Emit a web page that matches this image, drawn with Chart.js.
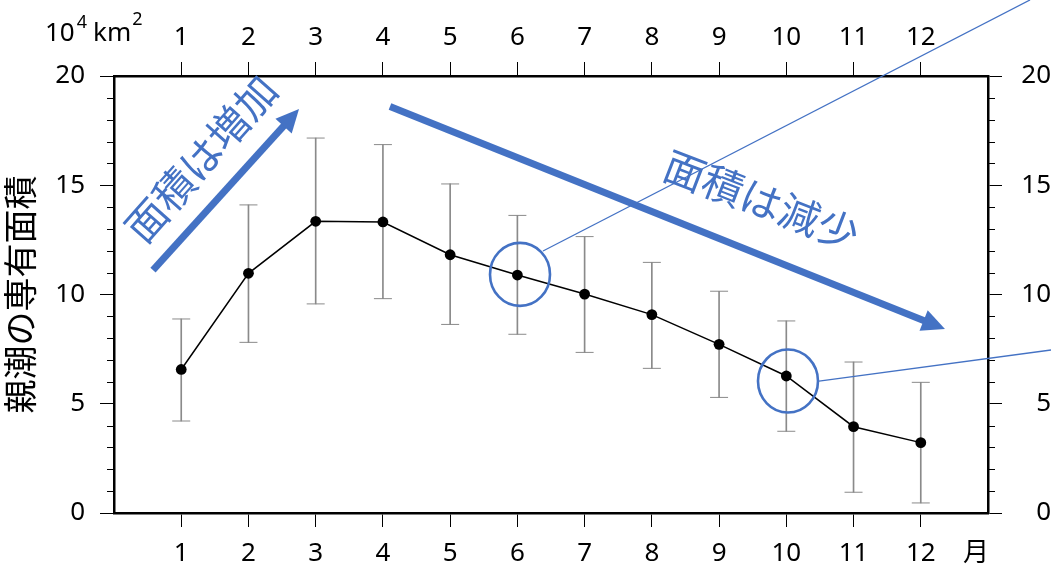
<!DOCTYPE html>
<html>
<head>
<meta charset="utf-8">
<script src="https://cdn.jsdelivr.net/npm/chart.js@4.4.1/dist/chart.umd.min.js"></script>
<style>
  html, body { margin: 0; padding: 0; background: #fff; }
  #wrap { width: 1051px; height: 569px; }
</style>
</head>
<body>
<div id="wrap"><canvas id="c" width="1051" height="569"></canvas></div>
<script>
// ---- data ----
const months   = [1, 2, 3, 4, 5, 6, 7, 8, 9, 10, 11, 12];
const meanArea = [6.57, 10.97, 13.35, 13.32, 11.82, 10.89, 10.02, 9.08, 7.72, 6.27, 3.95, 3.22];
const upperBar = [8.88, 14.10, 17.16, 16.86, 15.06, 13.62, 12.65, 11.47, 10.15, 8.79, 6.91, 5.98];
const lowerBar = [4.21, 7.81, 9.57, 9.81, 8.63, 8.18, 7.35, 6.62, 5.29, 3.74, 0.95, 0.46];
const yTickValues = [0, 5, 10, 15, 20];
const yMinorStep = 1;
const yTitle = '親潮の専有面積';
const xUnit = '月';
const arrowUp   = { from: [0.58, 11.12], to: [2.752, 18.49] };
const arrowDown = { from: [4.105, 18.6], to: [12.36, 8.42] };
const labelUp   = { text: '面積は増加', at: [1.294, 16.22], angle: -48.5 };
const labelDown = { text: '面積は減少', at: [9.631, 14.32], angle: 21 };
const circles   = [ { at: [6.039, 10.92] }, { at: [10.025, 6.04] } ];
const leaders   = [ { from: [6.381, 11.99], to: [13.625, 23.48] },
                    { from: [10.487, 6.04], to: [13.937, 7.46] } ];

const BLUE = '#4472C4';
const GREY = '#8a8a8a';
const NUMFONT = '"Noto Sans", "DejaVu Sans", sans-serif';
const JPFONT = '"Noto Sans CJK JP", sans-serif';

const inRange = v => v >= 1 && v <= 12;

function xAxis(position, size, pad) {
  return {
    type: 'linear', position, min: 0, max: 13, offset: false,
    ticks: { stepSize: 1, autoSkip: false, color: '#000', padding: pad,
             font: { family: NUMFONT, size: 26 },
             callback: v => inRange(v) ? String(v) : '' },
    grid: { drawOnChartArea: false, drawTicks: true, tickLength: 14, offset: false,
            color: c => (c.tick && inRange(c.tick.value)) ? '#000' : 'rgba(0,0,0,0)', lineWidth: 1 },
    border: { display: true, color: '#000', width: 2.5 },
    afterFit: s => { s.height = size; }
  };
}
function yAxis(position, size, withTitle) {
  return {
    type: 'linear', position, min: 0, max: 20,
    afterBuildTicks: s => { s.ticks = yTickValues.map(v => ({ value: v })); },
    ticks: { color: '#000', padding: 15, crossAlign: position === 'right' ? 'far' : 'near',
             font: { family: NUMFONT, size: 26 } },
    grid: { drawOnChartArea: false, drawTicks: true, tickLength: 14, color: '#000', lineWidth: 1 },
    border: { display: true, color: '#000', width: 2.5 },
    title: withTitle ? { display: true, text: yTitle, color: '#000', padding: { top: 0, bottom: 0 },
                         font: { family: JPFONT, size: 34 } } : { display: false },
    afterFit: s => { s.width = size; }
  };
}

const minorTicks = {
  id: 'minorTicks',
  afterDraw(chart) {
    const ctx = chart.ctx;
    ctx.save();
    ctx.strokeStyle = '#000';
    ctx.lineWidth = 1;
    ['y', 'y2'].forEach(id => {
      const s = chart.scales[id];
      const left = id === 'y';
      const x0 = left ? chart.chartArea.left : chart.chartArea.right;
      for (let v = s.min; v <= s.max; v += yMinorStep) {
        if (yTickValues.includes(v)) continue;
        const py = Math.round(s.getPixelForValue(v)) + 0.5;
        ctx.beginPath();
        ctx.moveTo(x0, py);
        ctx.lineTo(left ? x0 - 7 : x0 + 7, py);
        ctx.stroke();
      }
    });
    ctx.restore();
  }
};

const annotations = {
  id: 'annotations',
  afterDraw(chart) {
    const ctx = chart.ctx;
    const xs = chart.scales.x, ys = chart.scales.y;
    const P = p => [xs.getPixelForValue(p[0]), ys.getPixelForValue(p[1])];
    ctx.save();
    // arrows
    [arrowUp, arrowDown].forEach(a => {
      const [x1, y1] = P(a.from), [x2, y2] = P(a.to);
      const ang = Math.atan2(y2 - y1, x2 - x1);
      const hl = 23, hw = 11;
      const bx = x2 - hl * Math.cos(ang), by = y2 - hl * Math.sin(ang);
      ctx.strokeStyle = BLUE; ctx.fillStyle = BLUE; ctx.lineWidth = 7; ctx.lineCap = 'butt';
      ctx.beginPath(); ctx.moveTo(x1, y1); ctx.lineTo(bx + 2 * Math.cos(ang), by + 2 * Math.sin(ang)); ctx.stroke();
      ctx.beginPath();
      ctx.moveTo(x2, y2);
      ctx.lineTo(bx + hw * Math.sin(ang), by - hw * Math.cos(ang));
      ctx.lineTo(bx - hw * Math.sin(ang), by + hw * Math.cos(ang));
      ctx.closePath(); ctx.fill();
    });
    // leader lines
    ctx.lineWidth = 1.3; ctx.strokeStyle = BLUE;
    leaders.forEach(l => {
      const [x1, y1] = P(l.from), [x2, y2] = P(l.to);
      ctx.beginPath(); ctx.moveTo(x1, y1); ctx.lineTo(x2, y2); ctx.stroke();
    });
    // circles
    ctx.lineWidth = 2.6;
    circles.forEach(c => {
      const [cx, cy] = P(c.at);
      ctx.beginPath(); ctx.ellipse(cx, cy, 30, 31.5, 0, 0, Math.PI * 2); ctx.stroke();
    });
    // rotated labels
    ctx.fillStyle = BLUE;
    ctx.font = '41px ' + JPFONT;
    ctx.textAlign = 'center'; ctx.textBaseline = 'middle';
    [labelUp, labelDown].forEach(t => {
      const [tx, ty] = P(t.at);
      ctx.save(); ctx.translate(tx, ty); ctx.rotate(t.angle * Math.PI / 180);
      ctx.fillText(t.text, 0, 0); ctx.restore();
    });
    // unit labels
    ctx.fillStyle = '#000';
    ctx.textAlign = 'left'; ctx.textBaseline = 'alphabetic';
    const top = chart.chartArea.top;
    ctx.font = '26px ' + NUMFONT;
    let x = 45;
    const base = top - 35;
    ctx.fillText('10', x, base); x += ctx.measureText('10').width + 2;
    ctx.font = '18px ' + NUMFONT;
    ctx.fillText('4', x, base - 13); x += ctx.measureText('4').width + 6;
    ctx.font = '26px ' + NUMFONT;
    ctx.fillText('km', x, base); x += ctx.measureText('km').width + 1;
    ctx.font = '18px ' + NUMFONT;
    ctx.fillText('2', x, base - 16);
    ctx.font = '26px ' + JPFONT;
    ctx.textAlign = 'center'; ctx.textBaseline = 'middle';
    ctx.fillText(xUnit, chart.chartArea.right - 12, chart.chartArea.bottom + 38);
    ctx.restore();
  }
};

new Chart(document.getElementById('c'), {
  type: 'line',
  data: {
    datasets: [
      { type: 'line', label: 'mean', order: 1,
        data: months.map((m, i) => ({ x: m, y: meanArea[i] })),
        borderColor: '#000', borderWidth: 1.5, tension: 0,
        pointRadius: 5.4, pointBackgroundColor: '#000', pointBorderWidth: 0, pointHoverRadius: 5.4 },
      { type: 'bar', label: 'range', order: 3,
        data: months.map((m, i) => ({ x: m, y: [lowerBar[i], upperBar[i]] })),
        backgroundColor: GREY, barThickness: 1, grouped: false },
      { type: 'line', label: 'caps', order: 2, showLine: false,
        data: months.map((m, i) => ({ x: m, y: upperBar[i] }))
              .concat(months.map((m, i) => ({ x: m, y: lowerBar[i] }))),
        pointStyle: 'line', pointRadius: 9, pointBorderColor: GREY, pointBorderWidth: 1,
        pointHoverRadius: 9 }
    ]
  },
  options: {
    responsive: false, animation: false,
    layout: { padding: { left: 0, right: 0, top: 0, bottom: 0 } },
    plugins: { legend: { display: false }, tooltip: { enabled: false } },
    events: [],
    scales: {
      x: xAxis('bottom', 56, 11),
      x2: xAxis('top', 76, 9),
      y: yAxis('left', 114, true),
      y2: yAxis('right', 63, false)
    }
  },
  plugins: [minorTicks, annotations]
});
</script>
</body>
</html>
